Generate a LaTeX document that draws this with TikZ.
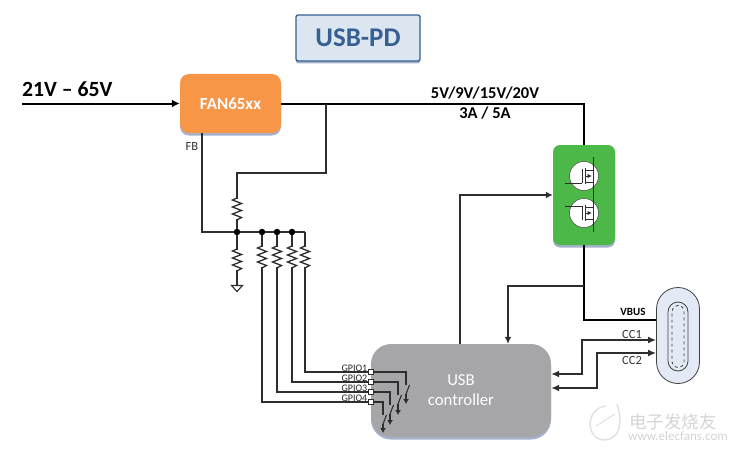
\documentclass[tikz,border=0pt]{standalone}
\usepackage{fontspec}
\setmainfont{Carlito}
\newfontfamily\cjkwm{Noto Sans CJK SC}
\usetikzlibrary{arrows.meta,shadows,calc}
\definecolor{wire}{HTML}{2E2E2E}
\definecolor{titlefill}{HTML}{DCE6F1}
\definecolor{titleink}{HTML}{376092}
\definecolor{orangefill}{HTML}{F79646}
\definecolor{greenfill}{HTML}{4CB848}
\definecolor{greyfill}{HTML}{A6A6A9}
\definecolor{usbfill}{HTML}{E4EAF5}
\definecolor{shadowink}{HTML}{8E9DBF}
\tikzset{
  x=1pt,y=-1pt,
  wireline/.style={draw=wire,line width=1.5pt},
  powerline/.style={draw=black,line width=2pt},
  arrowline/.style={wireline,-{Latex[length=7pt,width=7pt]}},
  twoway/.style={wireline,{Latex[length=8pt,width=7pt]}-{Latex[length=8pt,width=7pt]}},
  thinwire/.style={draw=wire,line width=1.1pt},
  blockshadow/.style={drop shadow={shadow xshift=0pt,shadow yshift=-2.5pt,fill=shadowink,opacity=.8}},
  block/.style={rounded corners=#1,inner sep=0pt,blockshadow},
  dot/.style={circle,fill=black,inner sep=0pt,minimum size=6.5pt},
  port/.style={rectangle,draw=wire,fill=white,line width=.8pt,inner sep=0pt,minimum size=5pt},
  gpiolabel/.style={font=\fontsize{10}{10}\selectfont,anchor=south east,inner sep=0pt,text=black!85},
  smalllabel/.style={font=\fontsize{12.5}{13}\selectfont,text=black!80,inner sep=0pt},
  boldlabel/.style={font=\bfseries\fontsize{16.5}{17}\selectfont,inner sep=0pt},
  pics/resistor/.style={code={
    \fill[white] (-6,-10) rectangle (6,10);
    \draw[wire,line width=1.3pt,line join=miter]
      (0,-11)--(-4.5,-9)--(4.5,-5.5)--(-4.5,-2)--(4.5,1.5)--(-4.5,5)--(4.5,8.5)--(0,11);
  }},
  pics/mosfet/.style={code={
    \draw[wire,fill=white,line width=.4pt] (0,0) circle (14.5);
    \draw[wire,line width=1pt] (-2,-7)--(-2,7);
    \draw[wire,line width=1pt] (1,-8)--(1,8);
    \draw[wire,line width=1pt] (1,-6)--(9,-6) (1,6)--(9,6) (9,0)--(9,6);
    \draw[wire,line width=1pt,-{Latex[length=4.5pt,width=4.5pt]}] (1,0)--(8,0);
  }}
}
\begin{document}
\begin{tikzpicture}
\useasboundingbox (0,0) rectangle (736,452);
% watermark
\draw[black!12,line width=1.4pt] (617,404) .. controls (622,420) and (622,438) .. (605,440)
  .. controls (585,440) and (585,408) .. (606,406);
\draw[black!12,line width=1pt] (596,426)--(615,414);
\node[font=\cjkwm\fontsize{17.5}{18}\selectfont,text=black!17,inner sep=0pt] (wm1) at (673,422) {电子发烧友};
\node[font=\fontsize{13}{13}\selectfont,text=black!17,inner sep=0pt] (wm2) at (678,436) {www.elecfans.com};
% blocks
\node[block=2pt,draw=titleink,line width=1.3pt,fill=titlefill,minimum width=124pt,minimum height=46pt,
  text=titleink,font=\bfseries\fontsize{27}{27}\selectfont] (title) at (358,38) {USB-PD};
\node[block=9pt,fill=orangefill,minimum width=101pt,minimum height=59pt,
  text=white,font=\bfseries\fontsize{17}{17}\selectfont] (fan) at (230.5,103.5) {FAN65xx};
\node[block=7pt,fill=greenfill,minimum width=62pt,minimum height=100pt] (fets) at (584,195) {};
\node[block=20pt,fill=greyfill,minimum width=180pt,minimum height=93pt,
  text=white,font=\fontsize{16.7}{20}\selectfont,align=center] (ctrl) at (461,390.5) {USB\\controller};
% USB-C receptacle
\node[draw=black!75,line width=.8pt,fill=usbfill,rounded corners=21.5pt,inner sep=0pt,minimum width=43pt,minimum height=96pt] (usbc) at (678,335.5) {};
\node[draw=black!75,line width=.8pt,rounded corners=10pt,inner sep=0pt,minimum width=20pt,minimum height=69pt] (usbm) at (678,336.5) {};
\node[draw=black!75,line width=.8pt,rounded corners=5.5pt,inner sep=0pt,minimum width=12pt,minimum height=62pt,dashed] (usbi) at (678,336.5) {};
% top labels
\coordinate (inp) at (22,103.5);
\node[boldlabel,font=\bfseries\fontsize{21.7}{22}\selectfont,anchor=west] (vin) at (22,89) {21V – 65V};
\node[boldlabel] (vout) at (485,93) {5V/9V/15V/20V};
\node[boldlabel] (iout) at (485,113) {3A / 5A};
\node[smalllabel] (fb) at (192,146) {FB};
\node[smalllabel,font=\bfseries\fontsize{11}{11}\selectfont,text=black] (vbus) at (633,311.5) {VBUS};
\node[smalllabel] (cc1) at (632,334.5) {CC1};
\node[smalllabel] (cc2) at (632,360.5) {CC2};
% coordinates
\coordinate (corner) at (fets.north |- fan.east);
\coordinate (tap) at (326,103.5);
\coordinate (tapd) at (326,173);
\coordinate (rtopa) at (237,173);
\coordinate (fbcorner) at (202,232);
\node[dot] (j0) at (237,232) {};
\node[dot] (j1) at (262,232) {};
\node[dot] (j2) at (277,232) {};
\node[dot] (j3) at (292,232) {};
\coordinate (jend) at (305,232);
\coordinate (rgnd) at (237,285);
\node[port] (p1) at (371,372) {};
\node[port] (p2) at (371,382) {};
\node[port] (p3) at (371,392) {};
\node[port] (p4) at (371,402) {};
\node[gpiolabel] (g1) at (367.5,371.5) {GPIO1};
\node[gpiolabel] (g2) at (367.5,381.5) {GPIO2};
\node[gpiolabel] (g3) at (367.5,391.5) {GPIO3};
\node[gpiolabel] (g4) at (367.5,401.5) {GPIO4};
% power path
\draw[powerline,-{Latex[length=8pt,width=8pt]}] (inp) -- (fan.west);
\draw[powerline] (fan.east) -- (corner) -- (fets.north);
\coordinate (vbc) at (584,320);
\coordinate (vbe) at (usbc.west |- vbc);
\draw[powerline,line width=2.5pt] (fets.south) -- (vbc) -- (vbe);
\coordinate (br) at (584,286);
\coordinate (brl) at (508,286);
\draw[arrowline] (br) -- (brl) -- (brl |- ctrl.north);
% feedback
\draw[wireline] (tap) -- (tapd) -- (rtopa) -- (j0);
\draw[wireline] (fan.south -| fbcorner) -- (fbcorner) -- (j0) -- (j1) -- (j2) -- (j3) -- (jend);
\draw[wireline] (j0) -- (rgnd);
\draw[wireline] (j1) |- (p4);
\draw[wireline] (j2) |- (p3);
\draw[wireline] (j3) |- (p2);
\draw[wireline] (jend) |- (p1);
\path (237,209) pic {resistor};
\path (237,260) pic {resistor};
\path (262,257) pic {resistor};
\path (277,257) pic {resistor};
\path (292,257) pic {resistor};
\path (305,257) pic {resistor};
\draw[wire,line width=1.1pt] (231.5,285.5) -- (242.5,285.5) -- (237,291.5) -- cycle;
% ctrl to fets
\coordinate (gt) at (460,195);
\coordinate (gb) at (460,344);
\draw[arrowline] (gb) -- (gt) -- (fets.west);
% CC
\coordinate (cc1a) at (582,340);
\coordinate (cc1b) at (582,374);
\coordinate (cc2a) at (597,353);
\coordinate (cc2b) at (597,388);
\draw[twoway] (cc1a -| usbc.west) -- (cc1a) -- (cc1b) -- (cc1b -| ctrl.east);
\draw[twoway] (cc2a -| usbc.west) -- (cc2a) -- (cc2b) -- (cc2b -| ctrl.east);
% GPIO switches
\foreach \n/\x/\y/\b in {p1/406/372/404,p2/398/382/415,p3/390/392/425,p4/383/402/433}{
  \coordinate (sa) at (\x,\y+13);
  \coordinate (sb) at (\x,\y+22);
  \draw[thinwire] (\n.east) -- (\x,\y) -- (sa);
  \draw[thinwire] (\x+3.5,\y+13) -- (sb);
  \draw[thinwire,-{Latex[length=5pt,width=6pt]}] (sb) -- (\x,\b);
}
% MOSFETs
\path (584,176) pic {mosfet};
\path (584,213) pic {mosfet};
\draw[wire,line width=1pt] (593,157) -- (593,232);
\draw[wire,line width=1pt] (565,183) -- (582,183);
\draw[wire,line width=1pt] (565,206) -- (582,206);
\end{tikzpicture}
\end{document}
